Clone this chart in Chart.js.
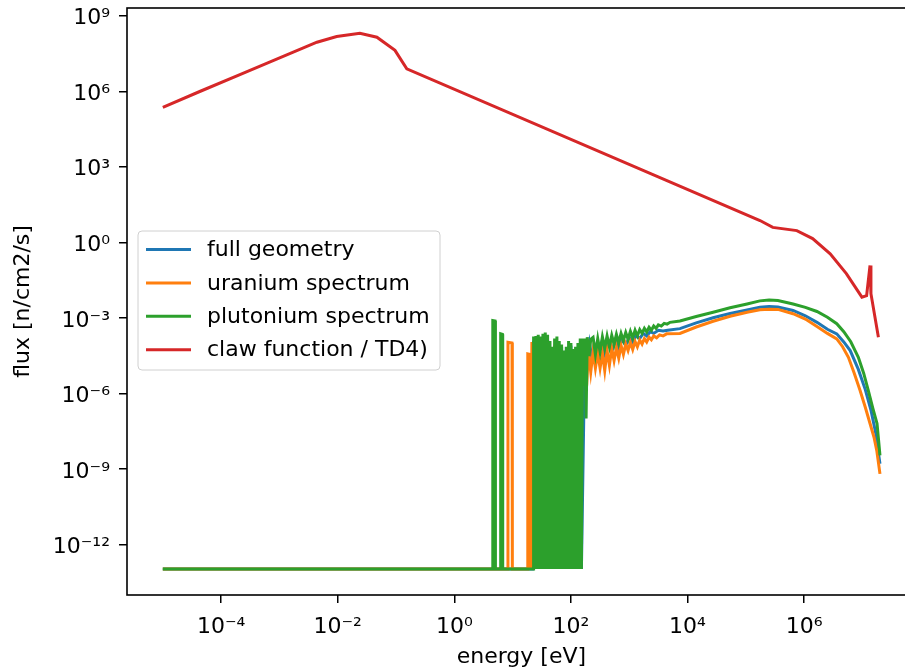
<!DOCTYPE html>
<html lang="en">
<head>
<meta charset="UTF-8">
<title>Flux spectrum</title>
<style>
  html, body { margin: 0; padding: 0; overflow: hidden; background: #fff; }
  #wrap { position: absolute; left: 0; top: 0; width: 925px; height: 672px; }
</style>
</head>
<body>
<div id="wrap"><canvas id="fluxChart" width="925" height="672"></canvas></div>

<script src="https://cdn.jsdelivr.net/npm/chart.js"></script>
<script>
// tick positions
const xTicks = [1e-4, 1e-2, 1, 1e2, 1e4, 1e6];
const yTicks = [1e-12, 1e-9, 1e-6, 1e-3, 1, 1e3, 1e6, 1e9];

const seriesNames = ['full geometry', 'uranium spectrum', 'plutonium spectrum', 'claw function / TD4)'];

// full geometry
const fullE = [1e-5, 21.9,
  22.9, 25.1, 27.5, 30.2, 33.1, 36.3, 39.8, 43.7, 47.9, 52.5, 57.5, 63.1, 69.2, 75.9, 83.2, 91.2, 100, 109.6, 120.2, 131.8, 144.5, 151.4,
  173.8, 190.5, 208.9, 229.1, 251.2, 288.4, 331.1, 380.2, 436.5, 501.2, 575.4, 660.7, 758.6, 871.0, 1000, 1148, 1318, 1514, 1738, 1995, 2291, 2630, 3162, 3802, 4571,
  7413, 1.41e4, 2.75e4, 5.37e4, 1.05e5, 1.74e5, 2.51e5, 3.55e5, 6.46e5, 1.05e6, 1.66e6, 2.51e6, 3.63e6, 4.79e6, 6.17e6, 8.51e6, 1.12e7, 1.41e7, 1.70e7, 1.86e7, 2.0e7];
const fullF = [1.05e-13, 1.05e-13,
  1.2e-4, 1.05e-13, 1.4e-4, 1.05e-13, 1.5e-4, 1.05e-13, 1.3e-4, 1.05e-13, 6e-5, 1.05e-13, 1.2e-4, 1.05e-13, 7e-5, 1.05e-13, 5e-5, 1.05e-13, 8e-5, 1.05e-13, 5e-5, 1.05e-13, 1e-4, 1.05e-13,
  1.0e-4, 1.5e-5, 9e-5, 2.5e-5, 9e-5, 3e-5, 9e-5, 3.5e-5, 1.0e-4, 4.5e-5, 1.2e-4, 6e-5, 1.4e-4, 8e-5, 1.7e-4, 1.1e-4, 2.0e-4, 1.5e-4, 2.4e-4, 1.9e-4, 2.8e-4, 2.4e-4, 3.2e-4, 3.0e-4, 3.2e-4,
  3.7e-4, 6.3e-4, 1.0e-3, 1.48e-3, 2.04e-3, 2.6e-3, 2.8e-3, 2.7e-3, 1.95e-3, 1.2e-3, 6.6e-4, 3.5e-4, 2.3e-4, 1.1e-4, 5.0e-5, 8.9e-6, 1.4e-6, 2.0e-7, 2.5e-8, 5.0e-9, 1.6e-9];

// uranium spectrum
const uranE = [1e-5, 8.22, 8.32, 9.77, 9.89, 18.0, 18.2, 19.95, 20.4, 21.4, 21.9,
  22.9, 25.1, 27.5, 30.2, 33.1, 36.3, 39.8, 45.7, 52.5, 57.5, 63.1, 69.2, 75.9, 83.2, 91.2, 100, 109.6, 120.2, 131.8, 144.5, 154.9,
  173.8, 186.2, 199.5, 218.8, 239.9, 263.0, 288.4, 316.2, 346.7, 380.2, 416.9, 457.1, 501.2, 549.5, 602.6, 660.7, 724.4, 794.3, 871.0, 955.0,
  1047, 1148, 1259, 1380, 1514, 1660, 1820, 1995, 2188, 2399, 2630, 2951, 3311, 3802, 4365,
  7413, 1.41e4, 2.75e4, 5.37e4, 1.05e5, 1.74e5, 2.51e5, 3.55e5, 6.46e5, 1.05e6, 1.66e6, 2.51e6, 3.63e6, 4.57e6, 5.75e6, 7.24e6, 9.12e6, 1.12e7, 1.35e7, 1.58e7, 1.76e7, 2.0e7];
const uranF = [1.05e-13, 1.05e-13, 1.07e-4, 1.0e-4, 1.05e-13, 1.05e-13, 3.7e-5, 3.5e-5, 1.05e-13, 1.1e-4, 1.05e-13,
  8e-5, 1.05e-13, 9e-5, 1.05e-13, 1.0e-4, 1.05e-13, 9e-5, 1.05e-13, 8e-5, 1.05e-13, 7e-5, 1.05e-13, 4.5e-5, 1.05e-13, 6e-5, 1.05e-13, 4.5e-5, 1.05e-13, 5e-5, 1.05e-13, 4.5e-5,
  6.0e-5, 2.0e-6, 5.0e-5, 7.0e-6, 4.5e-5, 1.0e-5, 4.0e-5, 1.0e-5, 4.0e-5, 8.0e-6, 5.0e-5, 1.3e-5, 6.0e-5, 2.0e-5, 6.5e-5, 2.5e-5, 8.0e-5, 3.5e-5, 9.0e-5, 5.0e-5,
  1.05e-4, 5.5e-5, 1.15e-4, 7.0e-5, 1.3e-4, 9.0e-5, 1.5e-4, 1.1e-4, 1.7e-4, 1.35e-4, 1.9e-4, 1.6e-4, 2.1e-4, 1.9e-4, 2.3e-4,
  2.4e-4, 4.3e-4, 7.3e-4, 1.15e-3, 1.66e-3, 2.1e-3, 2.2e-3, 2.15e-3, 1.45e-3, 8.9e-4, 4.5e-4, 2.4e-4, 1.45e-4, 7.1e-5, 2.7e-5, 6.3e-6, 1.3e-6, 2.8e-7, 6.3e-8, 1.8e-8, 5.4e-9, 6.3e-10];

// plutonium spectrum
const plutE = [1e-5, 4.52, 4.57, 5.01, 5.07, 6.17, 6.24, 6.68, 6.76, 22.6,
  22.9, 24.0, 25.1, 26.3, 27.5, 28.8, 30.2, 31.6, 33.1, 34.7, 36.3, 38.0, 39.8, 41.7, 43.7, 45.7, 47.9, 50.1, 52.5, 55.0, 57.5, 60.3, 63.1, 66.1, 69.2,
  72.4, 75.9, 79.4, 83.2, 87.1, 91.2, 95.5, 100, 104.7, 109.6, 114.8, 120.2, 125.9, 131.8, 138.0, 144.5, 151.4,
  158.5, 166.0, 173.8, 182.0, 190.5, 204.2, 218.8, 239.9, 263.0, 288.4, 316.2, 346.7, 380.2, 416.9, 457.1, 501.2, 549.5, 602.6, 660.7, 724.4, 794.3, 871.0, 955.0,
  1047, 1148, 1259, 1380, 1514, 1660, 1820, 1995, 2188, 2399, 2630, 2884, 3162, 3548, 3981, 4467, 5012,
  7413, 1.41e4, 2.75e4, 5.37e4, 1.05e5, 1.74e5, 2.51e5, 3.55e5, 6.46e5, 1.05e6, 1.66e6, 2.51e6, 3.63e6, 4.79e6, 6.31e6, 8.51e6, 1.05e7, 1.26e7, 1.51e7, 1.78e7, 1.91e7, 2.0e7];
const plutF = [1.05e-13, 1.05e-13, 7.8e-4, 7.5e-4, 1.05e-13, 1.05e-13, 2.3e-4, 2.2e-4, 1.05e-13, 1.05e-13,
  1.8e-4, 1.05e-13, 1.9e-4, 1.05e-13, 2.1e-4, 1.05e-13, 1.8e-4, 1.05e-13, 2.3e-4, 1.05e-13, 2.6e-4, 1.05e-13, 2.1e-4, 1.05e-13, 1.2e-4, 1.05e-13, 7.0e-5, 1.05e-13, 1.5e-4, 1.05e-13, 1.8e-4, 1.05e-13, 1.2e-4, 1.05e-13, 8.6e-5,
  1.05e-13, 5.0e-5, 1.05e-13, 7.0e-5, 1.05e-13, 1.2e-4, 1.05e-13, 1.0e-4, 1.05e-13, 5.8e-5, 1.05e-13, 7.0e-5, 1.05e-13, 1.0e-4, 1.05e-13, 1.5e-4, 1.05e-13,
  1.5e-4, 2.0e-6, 1.5e-4, 1.0e-7, 1.7e-4, 3.0e-5, 1.4e-4, 1.66e-4, 3.5e-5, 1.5e-4, 4.5e-5, 1.74e-4, 6.3e-5, 1.9e-4, 7.1e-5, 2.0e-4, 8.9e-5, 2.2e-4, 1.0e-4, 2.4e-4, 1.26e-4, 2.6e-4, 1.4e-4,
  2.9e-4, 1.6e-4, 3.2e-4, 1.9e-4, 3.4e-4, 2.4e-4, 3.8e-4, 2.75e-4, 4.2e-4, 3.2e-4, 4.7e-4, 3.8e-4, 5.2e-4, 4.7e-4, 6.0e-4, 5.6e-4, 6.6e-4,
  7.5e-4, 1.12e-3, 1.66e-3, 2.5e-3, 3.55e-3, 4.7e-3, 5.1e-3, 4.9e-3, 3.55e-3, 2.6e-3, 1.78e-3, 1.05e-3, 5.8e-4, 2.8e-4, 1.12e-4, 2.7e-5, 6.3e-6, 1.3e-6, 2.5e-7, 6.3e-8, 1.1e-8, 3.4e-9];

// claw function / TD4)
const clawE = [1e-5, 4.4e-5, 2.1e-4, 4.4e-3, 9.6e-3, 0.024, 0.047, 0.096, 0.153, 1.75e5, 2.9e5, 7.5e5, 1.4e6, 2.8e6, 5.3e6, 9.8e6, 1.18e7, 1.35e7, 1.4e7, 1.88e7];
const clawF = [2.3e5, 1.0e6, 4.6e6, 8.9e7, 1.5e8, 2.0e8, 1.4e8, 4.2e7, 7.8e6, 7.3, 3.9, 2.9, 1.4, 0.35, 0.057, 6.6e-3, 7.6e-3, 0.12, 9.1e-3, 1.7e-4];

const colors = ['#1f77b4', '#ff7f0e', '#2ca02c', '#d62728'];

function toPoints(E, F) {
  return E.map((e, i) => ({ x: e, y: F[i] }));
}

const SUP = { '-': '\u207B', '0': '\u2070', '1': '\u00B9', '2': '\u00B2', '3': '\u00B3', '4': '\u2074', '5': '\u2075', '6': '\u2076', '7': '\u2077', '8': '\u2078', '9': '\u2079' };
function powLabel(v) {
  const exp = String(Math.round(Math.log10(v)));
  return '10' + exp.split('').map(c => SUP[c]).join('');
}

Chart.defaults.font.family = '"DejaVu Sans", sans-serif';
Chart.defaults.color = '#000';

// legend drawn inside the axes, like matplotlib
const insideLegend = {
  id: 'insideLegend',
  afterDatasetsDraw(chart) {
    const { ctx, chartArea } = chart;
    const x0 = chartArea.left + 11, y0 = chartArea.top + 223;
    ctx.save();
    ctx.beginPath();
    ctx.roundRect(x0, y0, 302, 139, 4);
    ctx.fillStyle = 'rgba(255,255,255,0.8)';
    ctx.fill();
    ctx.strokeStyle = '#d0d0d0';
    ctx.lineWidth = 1;
    ctx.stroke();
    ctx.font = '22px "DejaVu Sans"';
    ctx.textBaseline = 'middle';
    chart.data.datasets.forEach((ds, i) => {
      const y = y0 + 18.5 + i * 33.4;
      ctx.strokeStyle = ds.borderColor;
      ctx.lineWidth = 3;
      ctx.beginPath();
      ctx.moveTo(x0 + 8, y);
      ctx.lineTo(x0 + 53, y);
      ctx.stroke();
      ctx.fillStyle = '#000';
      ctx.fillText(ds.label, x0 + 69, y + 1);
    });
    ctx.restore();
  }
};

const frame = {
  id: 'frame',
  afterDraw(chart) {
    const { ctx, chartArea } = chart;
    ctx.save();
    ctx.strokeStyle = '#000';
    ctx.lineWidth = 1.6;
    ctx.strokeRect(chartArea.left, chartArea.top, chartArea.right - chartArea.left, chartArea.bottom - chartArea.top);
    ctx.restore();
  }
};

const ctx = document.getElementById('fluxChart');

new Chart(ctx, {
  type: 'line',
  data: {
    datasets: [
      { label: seriesNames[0], data: toPoints(fullE, fullF), borderColor: colors[0], order: 4 },
      { label: seriesNames[1], data: toPoints(uranE, uranF), borderColor: colors[1], order: 3 },
      { label: seriesNames[2], data: toPoints(plutE, plutF), borderColor: colors[2], order: 2 },
      { label: seriesNames[3], data: toPoints(clawE, clawF), borderColor: colors[3], order: 1 }
    ]
  },
  options: {
    responsive: false,
    animation: false,
    layout: { padding: { left: 0, top: 8, right: 9.3, bottom: 0 } },
    elements: {
      point: { radius: 0 },
      line: { tension: 0, borderWidth: 3, fill: false }
    },
    plugins: {
      legend: { display: false },
      tooltip: { enabled: false }
    },
    scales: {
      x: {
        type: 'logarithmic',
        min: 2.43e-6,
        max: 8.2e7,
        afterBuildTicks: s => { s.ticks = xTicks.map(v => ({ value: v })); },
        afterFit: s => { s.height = 77; s.paddingLeft = 0; s.paddingRight = 0; },
        ticks: { autoSkip: false, maxRotation: 0, padding: 11, font: { size: 22 }, callback: v => powLabel(v) },
        grid: { drawOnChartArea: false, drawTicks: true, tickLength: 8, color: '#000', lineWidth: 1.5 },
        border: { display: false },
        title: { display: true, text: 'energy [eV]', font: { size: 22 }, padding: { top: 0, bottom: 2 } }
      },
      y: {
        type: 'logarithmic',
        min: 9.7e-15,
        max: 2.03e9,
        afterBuildTicks: s => { s.ticks = yTicks.map(v => ({ value: v })); },
        afterFit: s => { s.width = 127; s.paddingTop = 0; s.paddingBottom = 0; },
        ticks: { autoSkip: false, padding: 9, labelOffset: 3, font: { size: 22 }, callback: v => powLabel(v) },
        grid: { drawOnChartArea: false, drawTicks: true, tickLength: 8, color: '#000', lineWidth: 1.5 },
        border: { display: false },
        title: { display: true, text: 'flux [n/cm2/s]', font: { size: 22 }, padding: { top: 10, bottom: 0 } }
      }
    }
  },
  plugins: [insideLegend, frame]
});
</script>
</body>
</html>
